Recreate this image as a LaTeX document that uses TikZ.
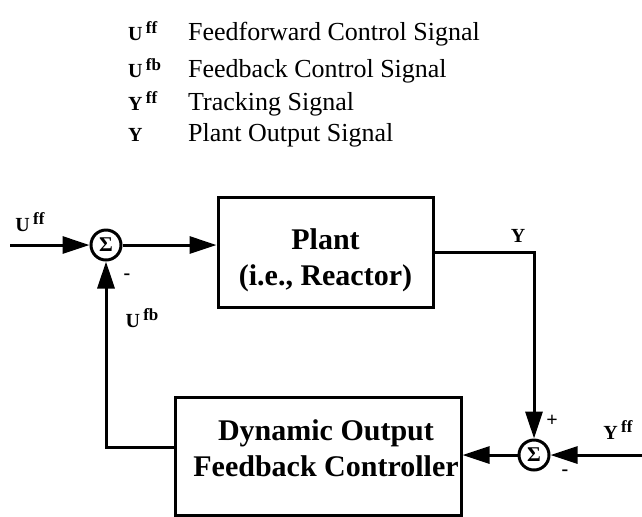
\documentclass[tikz,border=0pt]{standalone}
\usepackage{fontspec}
\setmainfont{Liberation Serif}
\usetikzlibrary{arrows.meta,positioning}
\newcommand{\varsym}[2]{\textbf{#1}\,\raisebox{0.75ex}{\fontsize{8.5}{8.5}\selectfont\bfseries #2}}

\begin{document}
\begin{tikzpicture}[x=0.5pt,y=-0.5pt,line width=1.5pt,
    sig/.style={-{Triangle[length=13.5pt,width=8.5pt]}},
    blk/.style={draw,line width=1.5pt,align=center,font=\fontsize{15}{18}\selectfont\bfseries},
    summ/.style={draw,circle,minimum size=15pt,inner sep=0pt,font=\fontsize{10.5}{10.5}\selectfont\bfseries},
    lbl/.style={font=\fontsize{10}{10}\selectfont\bfseries},
    legsym/.style={anchor=base west,font=\fontsize{10}{10}\selectfont},
    legtxt/.style={anchor=base west,font=\fontsize{13}{13}\selectfont}]
    \useasboundingbox (0,0) rectangle (642,516);

    % legend
    \node[legsym] (symuff) at (120,40) {\varsym{U}{ff}};
    \node[legtxt] (txtuff) at (180,40) {Feedforward Control Signal};
    \node[legsym] (symufb) at (120,77) {\varsym{U}{fb}};
    \node[legtxt] (txtufb) at (180,77) {Feedback Control Signal};
    \node[legsym] (symyff) at (120,110) {\varsym{Y}{ff}};
    \node[legtxt] (txtyff) at (180,110) {Tracking Signal};
    \node[legsym] (symy) at (120,141) {\textbf{Y}};
    \node[legtxt] (txty) at (180,141) {Plant Output Signal};

    % blocks
    \node[summ] (sum1) at (106,245) {Σ};
    \node[blk,minimum width=107.5pt,minimum height=55pt] (plant) at (325.5,252) {\rule{0pt}{19pt}Plant\\(i.e., Reactor)};
    \node[summ] (sum2) at (534,455) {Σ};
    \node[draw,minimum width=143pt,minimum height=59pt] (ctrl) at (318,456) {};
    \node[blk,draw=none,anchor=north] (ctrltxt) at ([xshift=4pt,yshift=-8pt]ctrl.north) {Dynamic Output\\Feedback Controller};

    \coordinate (uin) at (10,245);
    \coordinate (yin) at (642,455);

    % signals
    \draw[sig] (uin) -- (sum1);
    \draw[sig] (sum1) -- (sum1 -| plant.west);
    \draw[sig] (plant.east) -| (sum2);
    \draw[sig] (yin) -- (sum2);
    \draw[sig] (sum2) -- (sum2 -| ctrl.east);
    \draw[sig] ([yshift=4.5pt]ctrl.west) -| (sum1);

    % labels
    \node[lbl] (luff) at (30,222) {\varsym{U}{ff}};
    \node[lbl] (lufb) at (142,318) {\varsym{U}{fb}};
    \node[lbl] (lminus1) at (127,277) {-};
    \node[lbl] (ly) at (518,236) {Y};
    \node[lbl] (lplus) at (552,421) {+};
    \node[lbl] (lminus2) at (565,473) {-};
    \node[lbl] (lyff) at (618,430) {\varsym{Y}{ff}};
\end{tikzpicture}
\end{document}
